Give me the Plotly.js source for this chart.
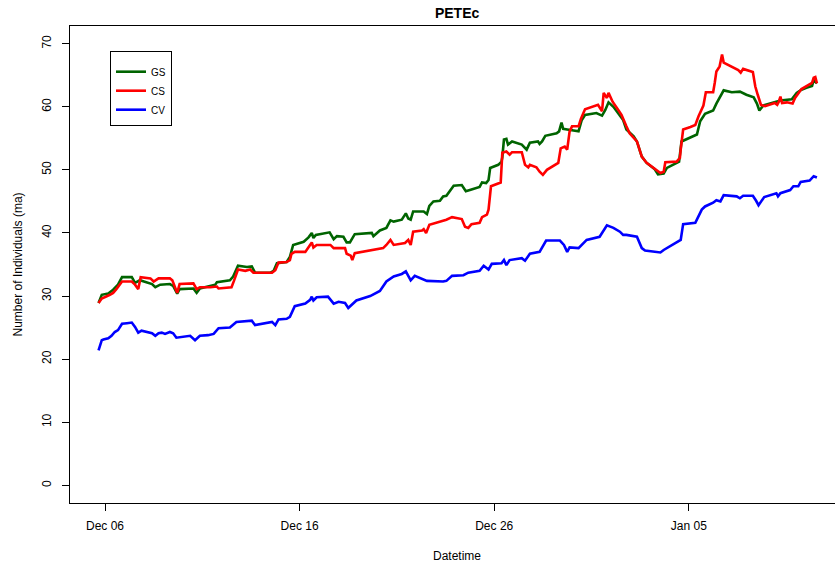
<!DOCTYPE html>
<html>
<head>
<meta charset="utf-8">
<script src="https://cdn.plot.ly/plotly-3.0.1.min.js"></script>
<style>html,body{margin:0;padding:0;background:#fff;}#chart{width:835px;height:562px;}</style>
</head>
<body>
<div id="chart"></div>
<script>
// ---- data ----
const cvTime = ["2021-12-05 16:00","2021-12-05 20:00","2021-12-05 22:00","2021-12-06 04:00","2021-12-06 08:00","2021-12-06 12:00","2021-12-06 16:00","2021-12-06 21:00","2021-12-07 03:00","2021-12-07 09:00",
"2021-12-07 13:00","2021-12-07 17:00","2021-12-07 21:00","2021-12-08 05:00","2021-12-08 10:00","2021-12-08 14:00","2021-12-08 18:00","2021-12-08 22:00","2021-12-09 02:00","2021-12-09 08:00",
"2021-12-09 12:00","2021-12-09 16:00","2021-12-10 01:00","2021-12-10 09:00","2021-12-10 15:00","2021-12-10 21:00","2021-12-11 07:00","2021-12-11 14:00","2021-12-11 20:00","2021-12-12 10:00",
"2021-12-12 18:00","2021-12-13 07:00","2021-12-13 13:00","2021-12-13 17:00","2021-12-14 07:00","2021-12-14 14:00","2021-12-14 18:00","2021-12-14 22:00","2021-12-15 08:00","2021-12-15 12:00",
"2021-12-15 18:00","2021-12-16 07:00","2021-12-16 13:00","2021-12-16 15:00","2021-12-16 17:00","2021-12-16 21:00","2021-12-17 11:00","2021-12-17 18:00","2021-12-18 00:00","2021-12-18 08:00",
"2021-12-18 12:00","2021-12-18 22:00","2021-12-19 15:00","2021-12-20 03:00","2021-12-20 11:00","2021-12-20 20:00","2021-12-21 06:00","2021-12-21 11:00","2021-12-21 14:00","2021-12-21 17:00",
"2021-12-21 22:00","2021-12-22 13:00","2021-12-23 09:00","2021-12-23 13:00","2021-12-23 20:00","2021-12-24 10:00","2021-12-24 16:00","2021-12-25 06:00","2021-12-25 11:00","2021-12-25 17:00",
"2021-12-25 21:00","2021-12-26 09:00","2021-12-26 12:00","2021-12-26 15:00","2021-12-26 19:00","2021-12-27 10:00","2021-12-27 14:00","2021-12-27 20:00","2021-12-28 08:00","2021-12-28 16:00",
"2021-12-29 09:00","2021-12-29 14:00","2021-12-29 18:00","2021-12-29 21:00","2021-12-30 08:00","2021-12-30 14:00","2021-12-30 18:00","2021-12-31 10:00","2021-12-31 19:00","2022-01-01 03:00",
"2022-01-01 11:00","2022-01-01 15:00","2022-01-01 19:00","2022-01-02 08:00","2022-01-02 14:00","2022-01-02 18:00","2022-01-03 08:00","2022-01-03 13:00","2022-01-03 17:00","2022-01-04 01:00",
"2022-01-04 09:00","2022-01-04 14:00","2022-01-04 17:00","2022-01-05 08:00","2022-01-05 16:00","2022-01-05 20:00","2022-01-06 06:00","2022-01-06 10:00","2022-01-06 15:00","2022-01-06 19:00",
"2022-01-07 11:00","2022-01-07 15:00","2022-01-07 19:00","2022-01-08 07:00","2022-01-08 11:00","2022-01-08 14:00","2022-01-08 21:00","2022-01-09 04:00","2022-01-09 12:00","2022-01-09 14:00",
"2022-01-09 17:00","2022-01-10 05:00","2022-01-10 09:00","2022-01-10 15:00","2022-01-10 18:00","2022-01-11 05:00","2022-01-11 10:00","2022-01-11 14:00"];
const cvValues = [21.4,23.0,23.1,23.3,23.7,24.3,24.6,25.6,25.7,25.8,
25.1,24.2,24.5,24.3,24.1,23.7,24.1,24.2,24.0,24.3,
24.1,23.4,23.5,23.7,23.0,23.7,23.8,24.0,24.9,25.0,
25.9,26.1,26.1,25.4,25.7,25.9,25.4,26.3,26.4,26.7,
28.4,28.8,29.4,29.9,29.3,29.8,29.9,28.8,29.1,28.9,
28.1,29.3,30.0,30.8,32.3,33.1,33.5,33.9,33.2,32.5,
33.2,32.4,32.3,32.4,33.2,33.3,33.7,34.0,34.8,34.2,
35.1,35.2,35.7,34.9,35.7,36.0,35.6,36.7,37.0,38.8,
38.8,38.1,37.0,37.7,37.6,38.3,38.9,39.4,41.2,40.8,
40.2,39.7,39.7,39.4,37.6,37.2,37.0,36.9,37.3,37.9,
38.4,38.9,41.4,41.6,43.7,44.2,44.8,45.2,45.0,46.0,
45.8,45.5,45.9,45.9,45.1,44.4,45.7,46.0,46.3,45.8,
46.3,46.8,47.4,47.4,48.1,48.3,49.0,48.8];

const gsTime = ["2021-12-05 16:00","2021-12-05 20:00","2021-12-06 04:00","2021-12-06 10:00","2021-12-06 16:00","2021-12-06 21:00","2021-12-07 09:00","2021-12-07 13:00","2021-12-07 19:00","2021-12-08 01:00",
"2021-12-08 10:00","2021-12-08 14:00","2021-12-08 20:00","2021-12-09 08:00","2021-12-09 12:00","2021-12-09 17:00","2021-12-09 20:00","2021-12-10 13:00","2021-12-10 17:00","2021-12-10 21:00",
"2021-12-11 16:00","2021-12-11 18:00","2021-12-12 10:00","2021-12-12 14:00","2021-12-12 20:00","2021-12-13 07:00","2021-12-13 13:00","2021-12-13 17:00","2021-12-14 12:00","2021-12-14 16:00",
"2021-12-14 20:00","2021-12-15 08:00","2021-12-15 12:00","2021-12-15 16:00","2021-12-16 05:00","2021-12-16 11:00","2021-12-16 15:00","2021-12-16 17:00","2021-12-16 20:00","2021-12-17 13:00",
"2021-12-17 18:00","2021-12-17 22:00","2021-12-18 06:00","2021-12-18 10:00","2021-12-18 14:00","2021-12-18 20:00","2021-12-19 17:00","2021-12-19 19:00","2021-12-20 03:00","2021-12-20 11:00",
"2021-12-20 16:00","2021-12-20 20:00","2021-12-21 06:00","2021-12-21 11:00","2021-12-21 14:00","2021-12-21 17:00","2021-12-21 20:00","2021-12-22 09:00","2021-12-22 13:00","2021-12-22 16:00",
"2021-12-22 21:00","2021-12-23 05:00","2021-12-23 09:00","2021-12-23 13:00","2021-12-23 17:00","2021-12-23 22:00","2021-12-24 08:00","2021-12-24 13:00","2021-12-24 20:00","2021-12-25 06:00",
"2021-12-25 09:00","2021-12-25 14:00","2021-12-25 17:00","2021-12-25 19:00","2021-12-26 05:00","2021-12-26 09:00","2021-12-26 10:00","2021-12-26 12:00","2021-12-26 15:00","2021-12-26 17:00",
"2021-12-26 22:00","2021-12-27 10:00","2021-12-27 16:00","2021-12-27 20:00","2021-12-28 06:00","2021-12-28 08:00","2021-12-28 11:00","2021-12-28 15:00","2021-12-29 05:00","2021-12-29 08:00",
"2021-12-29 11:00","2021-12-29 13:00","2021-12-29 18:00","2021-12-30 08:00","2021-12-30 12:00","2021-12-30 16:00","2021-12-31 06:00","2021-12-31 13:00","2021-12-31 17:00","2021-12-31 21:00",
"2022-01-01 03:00","2022-01-01 09:00","2022-01-01 15:00","2022-01-01 19:00","2022-01-02 04:00","2022-01-02 08:00","2022-01-02 14:00","2022-01-02 20:00","2022-01-03 06:00","2022-01-03 10:00",
"2022-01-03 17:00","2022-01-03 21:00","2022-01-04 09:00","2022-01-04 12:00","2022-01-04 15:00","2022-01-05 10:00","2022-01-05 14:00","2022-01-05 20:00","2022-01-06 06:00","2022-01-06 10:00",
"2022-01-06 19:00","2022-01-07 05:00","2022-01-07 15:00","2022-01-07 23:00","2022-01-08 08:00","2022-01-08 12:00","2022-01-08 15:00","2022-01-08 20:00","2022-01-09 17:00","2022-01-10 07:00",
"2022-01-10 13:00","2022-01-10 19:00","2022-01-11 01:00","2022-01-11 08:00","2022-01-11 10:00","2022-01-11 14:00"];
const gsValues = [28.9,30.2,30.4,31.0,31.8,33.0,33.0,32.1,32.5,32.3,
31.9,31.4,31.8,31.9,31.6,30.4,31.1,31.2,30.5,31.2,
31.8,32.2,32.5,33.1,34.8,34.6,34.7,33.7,33.7,34.0,
35.2,35.4,36.2,38.1,38.6,39.3,40.0,39.2,39.7,40.1,
39.0,39.5,39.4,38.5,38.5,39.8,40.0,39.5,40.4,40.8,
42.0,41.8,42.1,43.1,42.3,42.1,43.4,43.4,43.0,44.3,
45.0,45.1,45.8,45.9,46.7,47.5,47.6,46.6,46.9,47.3,
48.0,47.9,48.4,50.3,50.8,51.3,52.0,54.8,54.9,54.0,
54.5,54.0,53.2,54.3,54.5,54.1,54.5,55.4,55.8,56.1,
57.5,56.5,56.4,56.1,57.9,58.7,59.0,58.6,59.5,60.7,
60.0,59.0,57.9,56.4,55.3,54.5,52.1,51.1,50.1,49.3,
49.4,50.3,51.0,51.3,54.5,55.6,57.7,58.9,59.4,60.5,
62.6,62.3,62.4,61.9,61.5,60.5,59.4,60.2,61.0,61.2,
62.2,62.7,63.0,63.3,64.2,63.7];

const csTime = ["2021-12-05 16:00","2021-12-05 20:00","2021-12-06 06:00","2021-12-06 10:00","2021-12-06 14:00","2021-12-06 21:00","2021-12-07 09:00","2021-12-07 13:00","2021-12-07 17:00","2021-12-07 20:00",
"2021-12-08 08:00","2021-12-08 12:00","2021-12-08 18:00","2021-12-09 08:00","2021-12-09 11:00","2021-12-09 17:00","2021-12-09 20:00","2021-12-10 13:00","2021-12-10 17:00","2021-12-10 21:00",
"2021-12-11 10:00","2021-12-11 18:00","2021-12-11 20:00","2021-12-12 12:00","2021-12-12 15:00","2021-12-12 20:00","2021-12-13 05:00","2021-12-13 11:00","2021-12-13 15:00","2021-12-14 14:00",
"2021-12-14 18:00","2021-12-14 22:00","2021-12-15 08:00","2021-12-15 12:00","2021-12-15 14:00","2021-12-15 18:00","2021-12-16 07:00","2021-12-16 11:00","2021-12-16 15:00","2021-12-16 17:00",
"2021-12-16 21:00","2021-12-17 14:00","2021-12-17 18:00","2021-12-18 08:00","2021-12-18 10:00","2021-12-18 15:00","2021-12-18 17:00","2021-12-18 20:00","2021-12-20 07:00","2021-12-20 11:00",
"2021-12-20 16:00","2021-12-20 20:00","2021-12-21 10:00","2021-12-21 14:00","2021-12-21 17:00","2021-12-21 20:00","2021-12-22 07:00","2021-12-22 09:00","2021-12-22 12:00","2021-12-22 16:00",
"2021-12-23 01:00","2021-12-23 13:00","2021-12-23 20:00","2021-12-24 08:00","2021-12-24 12:00","2021-12-24 16:00","2021-12-24 20:00","2021-12-25 06:00","2021-12-25 09:00","2021-12-25 15:00",
"2021-12-25 17:00","2021-12-25 20:00","2021-12-26 08:00","2021-12-26 10:00","2021-12-26 15:00","2021-12-26 19:00","2021-12-26 22:00","2021-12-27 10:00","2021-12-27 14:00","2021-12-27 18:00",
"2021-12-27 20:00","2021-12-28 04:00","2021-12-28 08:00","2021-12-28 12:00","2021-12-28 17:00","2021-12-29 07:00","2021-12-29 10:00","2021-12-29 15:00","2021-12-29 18:00","2021-12-29 21:00",
"2021-12-30 00:00","2021-12-30 08:00","2021-12-30 11:00","2021-12-30 16:00","2021-12-31 08:00","2021-12-31 13:00","2021-12-31 15:00","2021-12-31 19:00","2021-12-31 21:00","2022-01-01 02:00",
"2022-01-01 09:00","2022-01-01 13:00","2022-01-01 19:00","2022-01-01 23:00","2022-01-02 08:00","2022-01-02 14:00","2022-01-02 20:00","2022-01-03 04:00","2022-01-03 08:00","2022-01-03 13:00",
"2022-01-03 17:00","2022-01-03 19:00","2022-01-04 09:00","2022-01-04 13:00","2022-01-04 14:00","2022-01-04 17:00","2022-01-05 02:00","2022-01-05 08:00","2022-01-05 12:00","2022-01-05 18:00",
"2022-01-05 21:00","2022-01-06 06:00","2022-01-06 08:00","2022-01-06 10:00","2022-01-06 14:00","2022-01-06 17:00","2022-01-06 19:00","2022-01-07 05:00","2022-01-07 13:00","2022-01-07 16:00",
"2022-01-07 19:00","2022-01-08 07:00","2022-01-08 10:00","2022-01-08 13:00","2022-01-08 17:00","2022-01-08 22:00","2022-01-09 10:00","2022-01-09 13:00","2022-01-09 15:00","2022-01-09 17:00",
"2022-01-09 19:00","2022-01-10 01:00","2022-01-10 08:00","2022-01-10 11:00","2022-01-10 19:00","2022-01-11 08:00","2022-01-11 10:00","2022-01-11 12:00","2022-01-11 13:00","2022-01-11 14:00"];
const csValues = [28.9,29.6,30.2,30.5,31.1,32.3,32.3,31.8,31.1,33.0,
32.8,32.3,32.8,32.8,32.5,30.5,31.9,32.0,31.1,31.4,
31.4,31.5,31.2,31.4,32.4,34.2,34.0,34.2,33.7,33.7,
34.1,35.3,35.4,35.7,36.7,37.0,37.0,37.8,38.5,37.7,
38.1,38.1,37.6,37.6,36.7,36.4,35.7,36.8,37.6,38.1,
38.9,38.1,38.4,38.9,38.1,40.2,40.4,40.6,40.0,41.3,
41.6,42.1,42.5,42.2,41.0,40.8,41.4,41.6,42.5,42.9,
43.7,47.4,48.0,52.7,52.9,52.4,52.8,52.8,50.8,50.4,
50.8,50.4,49.7,49.2,50.0,51.1,53.4,53.7,53.2,56.1,
56.9,56.9,58.1,59.6,60.3,59.3,62.2,61.4,62.2,60.8,
59.5,58.7,56.9,55.8,54.5,52.1,51.1,50.3,50.0,49.5,
49.7,51.2,51.3,51.9,53.2,56.4,56.8,57.1,58.5,60.2,
62.3,62.3,63.8,65.6,66.4,68.3,67.0,66.4,65.8,65.4,
66.0,65.5,63.2,61.9,60.3,60.1,60.6,60.3,60.8,61.6,
60.6,60.7,60.5,61.4,62.8,63.8,64.6,64.7,63.8,63.7];

const seriesNames = ["GS", "CS", "CV"];
const tickDates = ["2021-12-06", "2021-12-16", "2021-12-26", "2022-01-05"];
const tickLabels = ["Dec 06", "Dec 16", "Dec 26", "Jan 05"];

// ---- drawing ----
const FONT = "Liberation Sans, Arial, Helvetica, sans-serif";
const traces = [
  {x: gsTime, y: gsValues, name: seriesNames[0], type: "scatter", mode: "lines", line: {color: "#006400", width: 2.6}},
  {x: csTime, y: csValues, name: seriesNames[1], type: "scatter", mode: "lines", line: {color: "#ff0000", width: 2.6}},
  {x: cvTime, y: cvValues, name: seriesNames[2], type: "scatter", mode: "lines", line: {color: "#0000ff", width: 2.6}}
];

const layout = {
  width: 835, height: 562,
  margin: {l: 70, r: 0, t: 26, b: 59, pad: 0},
  paper_bgcolor: "#ffffff", plot_bgcolor: "#ffffff",
  font: {family: FONT, size: 12, color: "#000"},
  showlegend: true,
  title: {text: "<b>PETEc</b>", font: {family: FONT, size: 14, color: "#000"},
          xref: "paper", x: 0.506, xanchor: "center", yref: "container", y: 0.977, yanchor: "middle"},
  xaxis: {
    type: "date",
    range: ["2021-12-04 04:48", "2022-01-12 12:18"],
    tickvals: tickDates, ticktext: tickLabels,
    ticks: "outside", ticklen: 7, tickwidth: 1, tickcolor: "#000",
    ticklabelstandoff: 5,
    showline: true, linecolor: "#000", linewidth: 1, mirror: true,
    showgrid: false, zeroline: false,
    tickfont: {family: FONT, size: 12, color: "#000"}
  },
  yaxis: {
    range: [-2.8, 72.8], tick0: 0, dtick: 10,
    ticks: "outside", ticklen: 7, tickwidth: 1, tickcolor: "#000",
    tickangle: -90, ticklabelstandoff: 6,
    showline: true, linecolor: "#000", linewidth: 1, mirror: false,
    showgrid: false, zeroline: false,
    tickfont: {family: FONT, size: 12, color: "#000"}
  },
  legend: {
    x: 0.0523, y: 0.9476, xanchor: "left", yanchor: "top",
    bordercolor: "#000", borderwidth: 1, bgcolor: "#fff",
    font: {family: FONT, size: 10, color: "#000"},
    title: {text: " ", font: {family: FONT, size: 4}},
    itemwidth: 30
  },
  annotations: [
    {text: "Datetime", xref: "paper", yref: "paper", x: 0.506, y: -0.111, xanchor: "center", yanchor: "middle",
     showarrow: false, font: {family: FONT, size: 12, color: "#000"}},
    {text: "Number of Individuals (ma)", xref: "paper", yref: "paper", x: -0.068, y: 0.5, xanchor: "center", yanchor: "middle",
     textangle: -90, showarrow: false, font: {family: FONT, size: 12, color: "#000"}}
  ]
};

Plotly.newPlot("chart", traces, layout, {staticPlot: true, displayModeBar: false});
</script>
</body>
</html>
